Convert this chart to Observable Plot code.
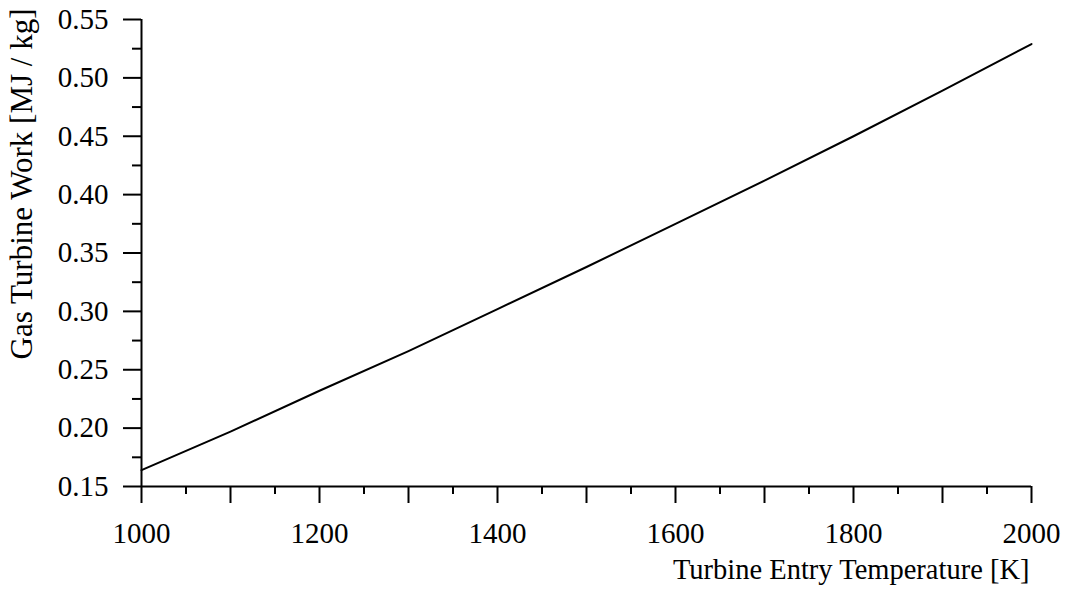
<!DOCTYPE html>
<html>
<head>
<meta charset="utf-8">
<script src="https://cdn.jsdelivr.net/npm/d3@7"></script>
<script src="https://cdn.jsdelivr.net/npm/@observablehq/plot@0.6"></script>
<style>
  html, body { margin: 0; padding: 0; background: #fff; }
</style>
</head>
<body>
<div id="chart"></div>
<script>
// Data
const temperature = [1000, 1100, 1200, 1300, 1400, 1500, 1600, 1700, 1800, 1900, 2000];
const work = [0.164, 0.197, 0.232, 0.266, 0.302, 0.338, 0.375, 0.412, 0.450, 0.489, 0.529];

const xMajor = [1000, 1100, 1200, 1300, 1400, 1500, 1600, 1700, 1800, 1900, 2000];
const xMinor = [1050, 1150, 1250, 1350, 1450, 1550, 1650, 1750, 1850, 1950];
const xLabels = [1000, 1200, 1400, 1600, 1800, 2000];
const yMajor = [0.15, 0.20, 0.25, 0.30, 0.35, 0.40, 0.45, 0.50, 0.55];
const yMinor = [0.175, 0.225, 0.275, 0.325, 0.375, 0.425, 0.475, 0.525];

const xTitle = "Turbine Entry Temperature [K]";
const yTitle = "Gas Turbine Work [MJ / kg]";

const data = temperature.map((t, i) => ({t, w: work[i]}));

const chart = Plot.plot({
  width: 1069,
  height: 593,
  marginLeft: 141,
  marginRight: 38,
  marginTop: 19,
  marginBottom: 107,
  style: {fontFamily: "'Liberation Serif', 'Times New Roman', serif", fontSize: "29px", color: "black", background: "white"},
  x: {domain: [1000, 2000]},
  y: {domain: [0.15, 0.55]},
  marks: [
    // axis lines
    Plot.ruleX([1000], {y1: 0.15, y2: 0.55, stroke: "black", strokeWidth: 2}),
    Plot.ruleY([0.15], {x1: 1000, x2: 2000, stroke: "black", strokeWidth: 2}),
    // x ticks
    Plot.axisX({ticks: xMajor, tickSize: 17, text: null, label: null, strokeWidth: 2}),
    Plot.axisX({ticks: xMinor, tickSize: 8, text: null, label: null, strokeWidth: 2}),
    Plot.axisX({ticks: xLabels, tickSize: 0, tickPadding: 36, tickFormat: d => String(d), label: null}),
    // y ticks
    Plot.axisY({ticks: yMajor, tickSize: 18, tickPadding: 15, tickFormat: d3.format(".2f"), label: null, strokeWidth: 2}),
    Plot.axisY({ticks: yMinor, tickSize: 9, text: null, label: null, strokeWidth: 2}),
    // line
    Plot.line(data, {x: "t", y: "w", stroke: "black", strokeWidth: 2}),
    // titles
    Plot.text([xTitle], {frameAnchor: "bottom-right", textAnchor: "end", lineAnchor: "bottom", dx: -2, dy: 92, fontSize: 28.5, fill: "black"}),
    Plot.text([yTitle], {frameAnchor: "top-left", rotate: -90, textAnchor: "end", lineAnchor: "middle", dx: -119, dy: -11, fontSize: 31, fill: "black"})
  ]
});
document.getElementById("chart").appendChild(chart);
</script>
</body>
</html>
